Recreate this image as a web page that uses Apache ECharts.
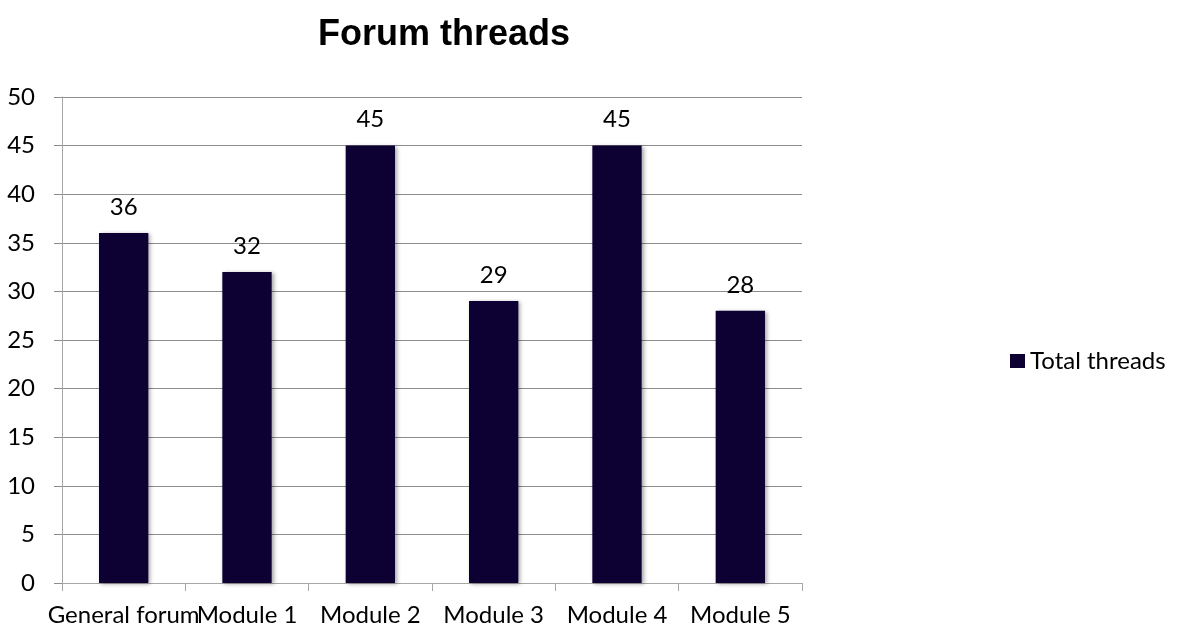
<!DOCTYPE html>
<html>
<head>
<meta charset="utf-8">
<script src="https://cdn.jsdelivr.net/npm/echarts@6/dist/echarts.min.js"></script>
<style>
  html, body { margin: 0; padding: 0; background: #fff; }
  #main { width: 1178px; height: 628px; }
</style>
</head>
<body>
<div id="main"></div>
<script>
// chart data
const categories = ['General forum', 'Module 1', 'Module 2', 'Module 3', 'Module 4', 'Module 5'];
const totalThreads = [36, 32, 45, 29, 45, 28];
const seriesName = 'Total threads';

const chart = echarts.init(document.getElementById('main'));
const font = 'Lato, "Open Sans", sans-serif';

chart.setOption({
  animation: false,
  title: {
    text: 'Forum threads',
    left: 439,
    top: 12,
    textAlign: 'center',
    textStyle: { fontFamily: '"Liberation Sans", Arial, sans-serif', fontWeight: 'bold', fontSize: 36, color: '#000' }
  },
  legend: {
    data: [seriesName],
    orient: 'vertical',
    left: 1005,
    top: 344,
    icon: 'rect',
    itemWidth: 15,
    itemHeight: 14,
    itemGap: 6,
    textStyle: { fontFamily: font, fontSize: 24, color: '#000' }
  },
  grid: { left: 62, right: 376, top: 97, bottom: 45 },
  xAxis: {
    type: 'category',
    data: categories,
    axisLine: { lineStyle: { color: '#a6a6a6', width: 1 } },
    axisTick: { show: true, length: 8, lineStyle: { color: '#a6a6a6' } },
    axisLabel: { fontFamily: font, fontSize: 24, color: '#000', margin: 20, interval: 0 }
  },
  yAxis: {
    type: 'value',
    min: 0,
    max: 50,
    interval: 5,
    axisLine: { show: true, lineStyle: { color: '#a6a6a6', width: 1 } },
    axisTick: { show: true, length: 8, lineStyle: { color: '#8c8c8c' } },
    axisLabel: { fontFamily: font, fontSize: 24, color: '#000', margin: 27 },
    splitLine: { lineStyle: { color: '#8c8c8c', width: 1 } }
  },
  series: [{
    name: seriesName,
    type: 'bar',
    data: totalThreads,
    barWidth: '40%',
    itemStyle: {
      color: '#0d0033',
      shadowColor: 'rgba(0,0,0,0.35)',
      shadowBlur: 4,
      shadowOffsetX: 2,
      shadowOffsetY: 1
    },
    label: {
      show: true,
      position: 'top',
      distance: 14,
      fontFamily: font,
      fontSize: 24,
      color: '#000'
    }
  }]
});
</script>
</body>
</html>
